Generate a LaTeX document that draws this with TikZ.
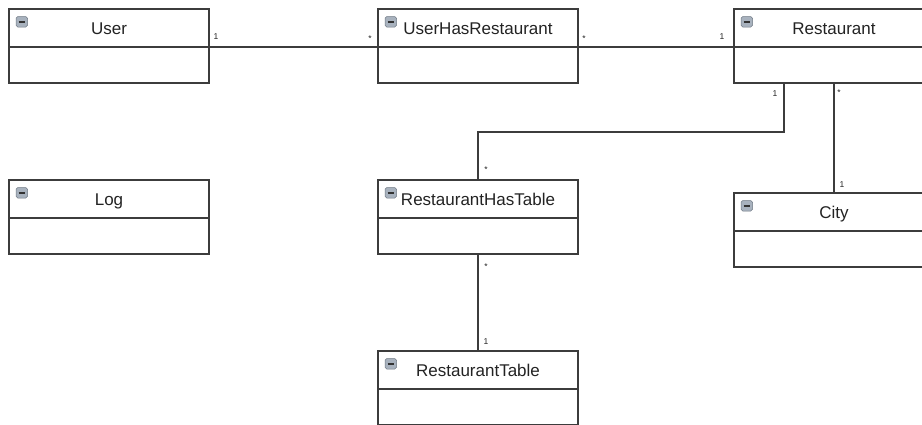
\documentclass[tikz,border=0pt]{standalone}
\usepackage{fontspec}
\setmainfont{Liberation Sans}
\definecolor{linec}{RGB}{60,60,60}
\definecolor{txt}{RGB}{35,35,35}
\definecolor{iconfill}{RGB}{168,178,190}
\definecolor{iconline}{RGB}{110,120,132}
\tikzset{
  classbox/.style={draw=linec, line width=1.4pt, fill=white, minimum width=200pt, minimum height=74pt, anchor=north west, inner sep=0pt, outer sep=0pt},
  classtitle/.style={font=\fontsize{17}{20}\selectfont, text=txt, anchor=base, inner sep=0pt},
  divider/.style={draw=linec, line width=1.4pt},
  assoc/.style={draw=linec, line width=1.4pt},
  mult/.style={font=\fontsize{8.5}{10}\selectfont, text=txt, inner sep=0pt},
  umlicon/.style={fill=iconfill, draw=iconline, line width=0.5pt, rounded corners=1.8pt},
  umlminus/.style={draw=black!80, line width=1.5pt},
}
\newcommand\umlclass[3]{%
  \node[classbox] (#1) at (#2) {};
  \node[classtitle] (#1-title) at ([yshift=-25.5pt]#1.north) {#3};
  \draw[divider] ([yshift=-38pt]#1.north west) -- ([yshift=-38pt]#1.north east);
  \draw[umlicon] ([shift={(7pt,-7.5pt)}]#1.north west) rectangle ++(11.5pt,-10.5pt);
  \draw[umlminus] ([shift={(9.5pt,-12.75pt)}]#1.north west) -- ++(6.5pt,0pt);
}
\begin{document}
\begin{tikzpicture}[x=1pt,y=-1pt]
\useasboundingbox (0,0) rectangle (922,424);
\umlclass{user}{9,9}{User}
\umlclass{uhr}{378,9}{UserHasRestaurant}
\umlclass{rest}{734,9}{Restaurant}
\umlclass{log}{9,180}{Log}
\umlclass{rht}{378,180}{RestaurantHasTable}
\umlclass{city}{734,193}{City}
\umlclass{rt}{378,351}{RestaurantTable}

\coordinate (bend) at (478,132);
\draw[assoc] ([yshift=-38pt]user.north east) -- ([yshift=-38pt]uhr.north west);
\draw[assoc] ([yshift=-38pt]uhr.north east) -- ([yshift=-38pt]rest.north west);
\draw[assoc] ([xshift=-50pt]rest.south) |- (bend) -- (rht.north);
\draw[assoc] (rest.south) -- (city.north);
\draw[assoc] (rht.south) -- (rt.north);

\node[mult] (m1) at (216,37) {1};
\node[mult] (m2) at (370,39) {*};
\node[mult] (m3) at (584,39) {*};
\node[mult] (m4) at (722,37) {1};
\node[mult] (m5) at (775,94) {1};
\node[mult] (m6) at (839,93) {*};
\node[mult] (m7) at (486,170) {*};
\node[mult] (m8) at (486,267) {*};
\node[mult] (m9) at (486,342) {1};
\node[mult] (m10) at (842,185) {1};
\end{tikzpicture}
\end{document}
